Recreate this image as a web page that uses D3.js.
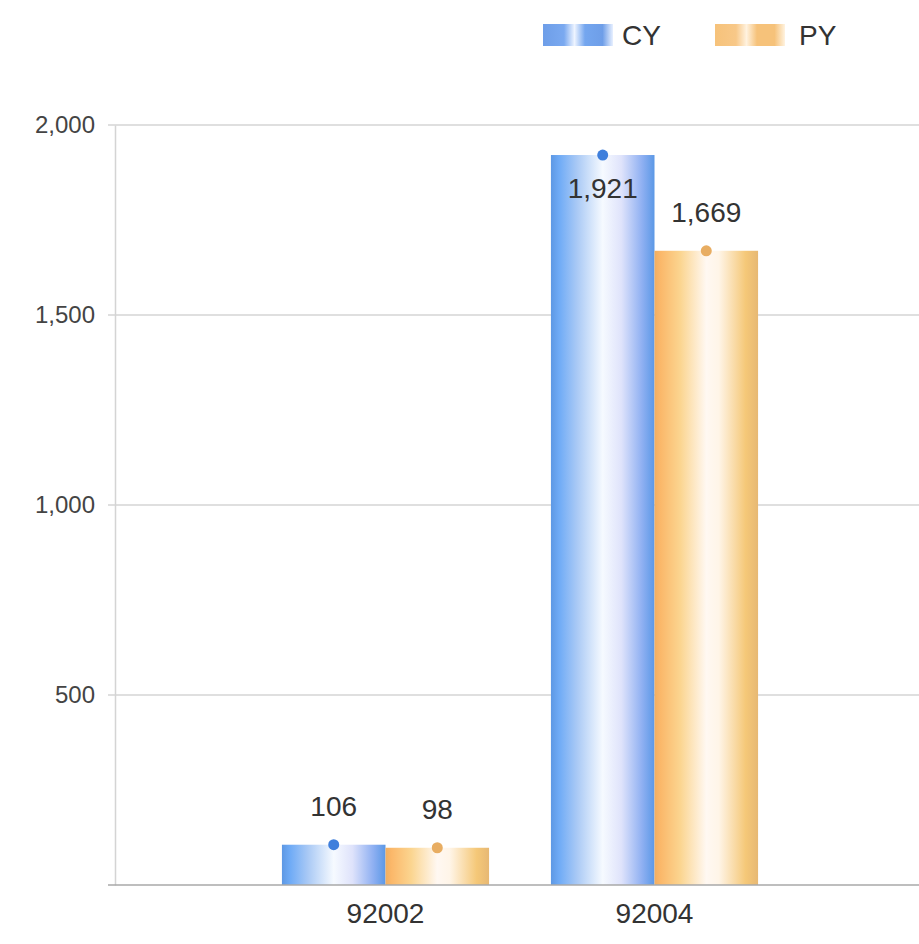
<!DOCTYPE html>
<html><head><meta charset="utf-8">
<script src="https://cdn.jsdelivr.net/npm/d3@7"></script>
<style>body{margin:0;background:#fff;}svg{display:block;font-family:"Liberation Sans",Arial,sans-serif;}</style>
</head><body>
<svg id="c" width="919" height="944"></svg>
<script>
const categories = ["92002", "92004"];
const seriesNames = ["CY", "PY"];
const cyValues = [106, 1921];
const pyValues = [98, 1669];
const yTicks = [500, 1000, 1500, 2000];

const svg = d3.select("#c");
const W = 919, H = 944;
const margin = {left: 115, top: 125, bottom: 59};
const y = d3.scaleLinear().domain([0, 2000]).range([885, 125]);
const x0 = d3.scaleBand().domain(categories).range([251, 789]).paddingInner(0.23).paddingOuter(0.115);
const x1 = d3.scaleBand().domain(seriesNames).range([0, x0.bandwidth()]).paddingInner(0.0);

const defs = svg.append("defs");
function grad(id, stops){
  const g = defs.append("linearGradient").attr("id", id).attr("x1","0%").attr("x2","100%").attr("y1","0%").attr("y2","0%");
  stops.forEach(s => g.append("stop").attr("offset", s[0]).attr("stop-color", s[1]));
}
grad("gCY", [[0,"#5d98e4"],[0.08,"#6fabf6"],[0.25,"#a9c9f5"],[0.5,"#f6faff"],[0.68,"#dfe3fb"],[0.88,"#8fb0f2"],[1,"#5b98e6"]]);
grad("gPY", [[0,"#f0ae62"],[0.06,"#fbb86a"],[0.25,"#fbd590"],[0.5,"#fff8f2"],[0.62,"#fff5e8"],[0.88,"#f5c878"],[1,"#e7b873"]]);
grad("lCY", [[0,"#6e9ee8"],[0.3,"#7aa9f0"],[0.45,"#eef4ff"],[0.6,"#74a6ef"],[0.85,"#6e9ee8"],[1,"#e8f0ff"]]);
grad("lPY", [[0,"#f6c27a"],[0.3,"#f8c888"],[0.45,"#fff2df"],[0.6,"#f6c27a"],[0.85,"#f6c27a"],[1,"#fff3e0"]]);

const colors = {CY: "url(#gCY)", PY: "url(#gPY)"};
const dotColors = {CY: "#3f7fdc", PY: "#e8ad62"};

// gridlines
svg.append("g").selectAll("line").data(yTicks).join("line")
  .attr("x1", 108).attr("x2", W).attr("y1", d => y(d)).attr("y2", d => y(d))
  .attr("stroke", "#d4d4d4").attr("stroke-width", 1.5);

// y axis
const yAxis = d3.axisLeft(y).tickValues(yTicks).tickSize(0).tickPadding(20).tickFormat(d3.format(","));
const ya = svg.append("g").attr("transform", `translate(${margin.left},0)`).call(yAxis);
ya.select(".domain").attr("stroke", "#d4d4d4").attr("stroke-width", 1.5);
ya.selectAll("text").attr("font-size", 24).attr("fill", "#444");

// bars
const data = categories.map((c, i) => ({cat: c, vals: [{s: "CY", v: cyValues[i]}, {s: "PY", v: pyValues[i]}]}));
const groups = svg.append("g").selectAll("g").data(data).join("g")
  .attr("transform", d => `translate(${x0(d.cat)},0)`);
groups.selectAll("rect").data(d => d.vals).join("rect")
  .attr("x", d => x1(d.s)).attr("width", x1.bandwidth())
  .attr("y", d => y(d.v)).attr("height", d => y(0) - y(d.v))
  .attr("fill", d => colors[d.s]);
groups.selectAll("circle").data(d => d.vals).join("circle")
  .attr("cx", d => x1(d.s) + x1.bandwidth() / 2).attr("cy", d => y(d.v))
  .attr("r", 5.5).attr("fill", d => dotColors[d.s]);
groups.selectAll("text").data(d => d.vals).join("text")
  .attr("x", d => x1(d.s) + x1.bandwidth() / 2)
  .attr("y", d => (y(d.v) - 45 < y(2000)) ? y(d.v) + 43 : y(d.v) - 29)
  .attr("text-anchor", "middle").attr("font-size", 28).attr("fill", "#333")
  .text(d => d3.format(",")(d.v));

// x axis
const xAxis = d3.axisBottom(x0).tickSize(0).tickPadding(24);
const xa = svg.append("g").attr("transform", `translate(0,${y(0)})`).call(xAxis);
xa.select(".domain").remove();
svg.append("line").attr("x1", 108).attr("x2", W).attr("y1", y(0)).attr("y2", y(0)).attr("stroke", "#a8a8a8").attr("stroke-width", 1.5);
xa.selectAll("text").attr("font-size", 28).attr("fill", "#333").attr("dy", "0.5em");

// legend
const legend = svg.append("g");
const legItems = [{s: "CY", x: 543, fill: "url(#lCY)", tx: 622}, {s: "PY", x: 715, fill: "url(#lPY)", tx: 799}];
legItems.forEach(it => {
  legend.append("rect").attr("x", it.x).attr("y", 24).attr("width", 70).attr("height", 22).attr("fill", it.fill);
  legend.append("text").attr("x", it.tx).attr("y", 45).attr("font-size", 28).attr("fill", "#333").text(it.s);
});
</script>
</body></html>
